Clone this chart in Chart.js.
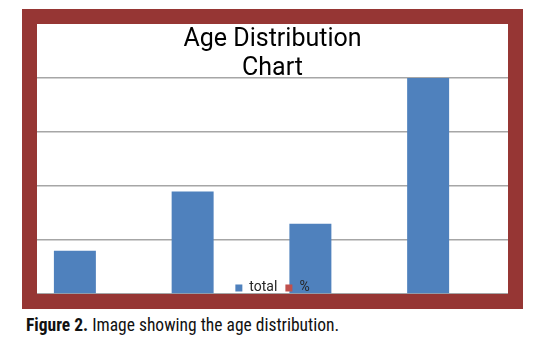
<!DOCTYPE html>
<html>
<head>
<meta charset="utf-8">
<script src="https://cdn.jsdelivr.net/npm/chart.js@4.4.0/dist/chart.umd.min.js"></script>
<style>
  html, body { margin: 0; padding: 0; background: #fff; }
  body { width: 554px; height: 350px; position: relative; overflow: hidden; }
  #frame {
    position: absolute; left: 22px; top: 9px; width: 501px; height: 300px;
    box-sizing: border-box; border: 15px solid #963634; background: #fff;
  }
  #ageChart { position: absolute; left: 0; top: 0; }
  #caption {
    position: absolute; left: 26px; top: 315px; margin: 0;
    font-family: "Roboto Condensed", "Liberation Sans Narrow", "DejaVu Sans Condensed", sans-serif;
    font-stretch: condensed; font-size: 17.5px; color: #111; white-space: nowrap;
  }
  #caption b { font-weight: bold; }
</style>
</head>
<body>
<div id="frame"><canvas id="ageChart" width="471" height="270"></canvas></div>
<p id="caption"><b>Figure 2.</b> Image showing the age distribution.</p>
<script>
// age groups (no labels shown on the picture)
const categories = ['1', '2', '3', '4'];
const totalValues = [8, 19, 13, 40];
const percentValues = [0, 0, 0, 0];
const yTicks = [0, 10, 20, 30, 40];

const blue = '#4f81bd';
const red = '#c0504d';

// legend sits inside the plot, just above the baseline, drawn over the bars
const legendInside = {
    id: 'legendInside',
    beforeLayout(chart) {
        const lg = chart.legend;
        lg._layers = () => [{ z: 1, draw(area) { lg.draw(area); } }];
    },
    afterUpdate(chart) {
        const lg = chart.legend;
        const top = chart.chartArea.bottom - 21;
        lg.top = top;
        lg.height = 21;
        lg.bottom = top + 21;
    }
};

const ctx = document.getElementById('ageChart');
const chart = new Chart(ctx, {
    type: 'bar',
    data: {
        labels: categories,
        datasets: [
            { label: 'total', data: totalValues, backgroundColor: blue, borderWidth: 0 },
            { label: '%', data: percentValues, backgroundColor: red, borderWidth: 0 }
        ]
    },
    options: {
        responsive: false,
        animation: false,
        events: [],
        categoryPercentage: 0.713,
        barPercentage: 1,
        layout: { padding: 0 },
        scales: {
            x: { display: false },
            y: {
                min: yTicks[0], max: yTicks[yTicks.length - 1],
                afterBuildTicks: (s) => { s.ticks = yTicks.map(v => ({ value: v })); },
                ticks: { display: false },
                border: { display: false },
                grid: { color: '#a6a6a6', lineWidth: 1.5, drawTicks: false }
            }
        },
        plugins: {
            title: {
                display: true,
                text: ['Age Distribution', 'Chart'],
                color: '#000',
                font: { family: 'Roboto', size: 25, weight: 'normal', lineHeight: 1.16 },
                padding: { top: 1, bottom: -5 }
            },
            legend: {
                position: 'bottom',
                maxHeight: 0.01,
                labels: {
                    boxWidth: 7, boxHeight: 7, padding: 8,
                    color: '#262626',
                    font: { family: 'Roboto', size: 14 }
                }
            },
            tooltip: { enabled: false }
        }
    },
    plugins: [legendInside]
});
</script>
</body>
</html>
